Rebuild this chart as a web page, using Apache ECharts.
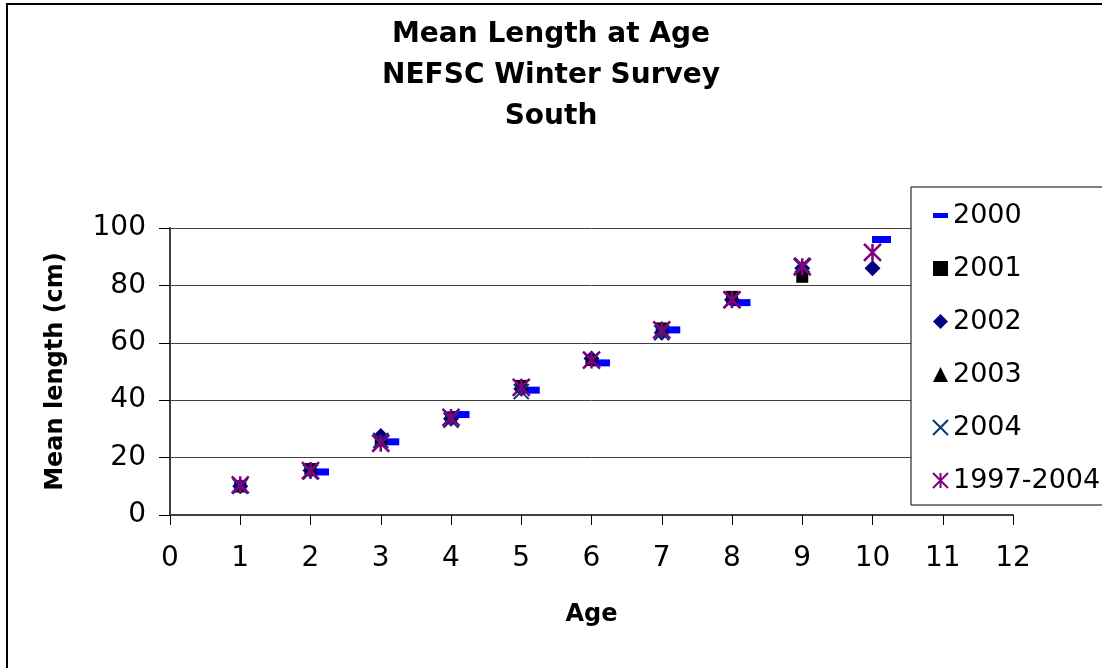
<!DOCTYPE html>
<html>
<head>
<meta charset="utf-8">
<title>Mean Length at Age</title>
<script src="https://cdn.jsdelivr.net/npm/echarts@6/dist/echarts.min.js"></script>
<style>
    html, body { margin: 0; padding: 0; background: #fff; }
    #chart { width: 1102px; height: 668px; }
</style>
</head>
<body>
<div id="chart"></div>
<script>
// ages 1..10, null where a year has no value
const ages = [1, 2, 3, 4, 5, 6, 7, 8, 9, 10]
const len2000 = [null, 15, 25.5, 35, 43.5, 53, 64.5, 74, null, 96]
const len2001 = [10, 16, 26, 34, 45, 54, 65, 76, 83, null]
const len2002 = [10, 15.5, 27.5, 33.5, 44, 54.5, 63.5, 75, 86, 86]
const len2003 = [10, 16.5, 26, 34, 45.5, 55, 65, 76, 86, null]
const len2004 = [10, 15, 26, 33, 43, 54, 63.5, 75, 87, null]
const len9704 = [10.5, 15.5, 25, 34, 44.5, 54, 64.5, 75, 86.5, 91.5]
const xTicks = [0, 1, 2, 3, 4, 5, 6, 7, 8, 9, 10, 11, 12]
const yTicks = [0, 20, 40, 60, 80, 100]

const FONT = 'DejaVu Sans'
const DASH = 'path://M0,0L15,0L15,5L0,5Z'
const CROSS = 'path://M0,0L16,16M16,0L0,16'
const STAR = 'path://M0,0L16,16M16,0L0,16M8,0L8,16'

function pairs(vals) {
    return ages.map((a, i) => [a, vals[i]]).filter(p => p[1] != null)
}

const chart = echarts.init(document.getElementById('chart'))
const option = {
    backgroundColor: '#fff',
    animation: false,
    title: {
        text: 'Mean Length at Age\nNEFSC Winter Survey\nSouth',
        left: 'center',
        top: 9,
        textStyle: {
            fontFamily: FONT,
            fontSize: 28,
            fontWeight: 'bold',
            color: '#000',
            lineHeight: 41
        }
    },
    graphic: [{
        type: 'rect',
        z: -1,
        shape: { x: 7, y: 4, width: 1200, height: 800 },
        style: { fill: 'none', stroke: '#000', lineWidth: 2 }
    }],
    legend: {
        orient: 'vertical',
        left: 911,
        top: 187,
        backgroundColor: '#fff',
        borderColor: '#000',
        borderWidth: 1,
        borderRadius: 0,
        padding: [15, 14, 11, 21],
        itemGap: 26,
        itemWidth: 15,
        itemHeight: 15,
        textStyle: { fontFamily: FONT, fontSize: 27, color: '#000' },
        data: ['2000', '2001', '2002', '2003', '2004', '1997-2004']
    },
    grid: { left: 170, right: 89, top: 228, bottom: 153 },
    xAxis: {
        type: 'value',
        min: 0,
        max: 12,
        interval: 1,
        name: 'Age',
        nameLocation: 'middle',
        nameGap: 88,
        nameTextStyle: { fontFamily: FONT, fontSize: 24, fontWeight: 'bold', color: '#000' },
        axisLine: { onZero: false, lineStyle: { color: '#404040', width: 2 } },
        axisTick: { show: true, length: 10, lineStyle: { color: '#000' } },
        axisLabel: {
            margin: 30,
            fontFamily: FONT,
            fontSize: 28,
            color: '#000',
            formatter: v => xTicks.includes(v) ? String(v) : ''
        },
        splitLine: { show: false }
    },
    yAxis: {
        type: 'value',
        min: 0,
        max: 100,
        interval: 20,
        name: 'Mean length (cm)',
        nameLocation: 'middle',
        nameGap: 102,
        nameTextStyle: { fontFamily: FONT, fontSize: 24, fontWeight: 'bold', color: '#000' },
        axisLine: { show: true, lineStyle: { color: '#404040', width: 2 } },
        axisTick: { show: true, length: 11, lineStyle: { color: '#000' } },
        axisLabel: {
            margin: 24,
            fontFamily: FONT,
            fontSize: 28,
            color: '#000',
            formatter: v => yTicks.includes(v) ? String(v) : ''
        },
        splitLine: { show: true, lineStyle: { color: '#404040', width: 1 } }
    },
    series: [
        {
            name: '2000', type: 'scatter', data: pairs(len2000),
            symbol: DASH, symbolSize: [19, 7], symbolOffset: [9, 0], symbolKeepAspect: false,
            itemStyle: { color: '#0000ff', opacity: 1 }
        },
        {
            name: '2001', type: 'scatter', data: pairs(len2001),
            symbol: 'rect', symbolSize: 12,
            itemStyle: { color: '#000', opacity: 1 }
        },
        {
            name: '2002', type: 'scatter', data: pairs(len2002),
            symbol: 'diamond', symbolSize: 16,
            itemStyle: { color: '#000080', opacity: 1 }
        },
        {
            name: '2003', type: 'scatter', data: pairs(len2003),
            symbol: 'triangle', symbolSize: 12,
            itemStyle: { color: '#000', opacity: 1 }
        },
        {
            name: '2004', type: 'scatter', data: pairs(len2004),
            symbol: CROSS, symbolSize: 15,
            itemStyle: { color: 'transparent', borderColor: '#003a70', borderWidth: 2, opacity: 1 }
        },
        {
            name: '1997-2004', type: 'scatter', data: pairs(len9704),
            symbol: STAR, symbolSize: 17,
            itemStyle: { color: 'transparent', borderColor: '#800080', borderWidth: 2.5, opacity: 1 }
        }
    ]
}
chart.setOption(option)
window.addEventListener('resize', () => chart.resize())
</script>
</body>
</html>
